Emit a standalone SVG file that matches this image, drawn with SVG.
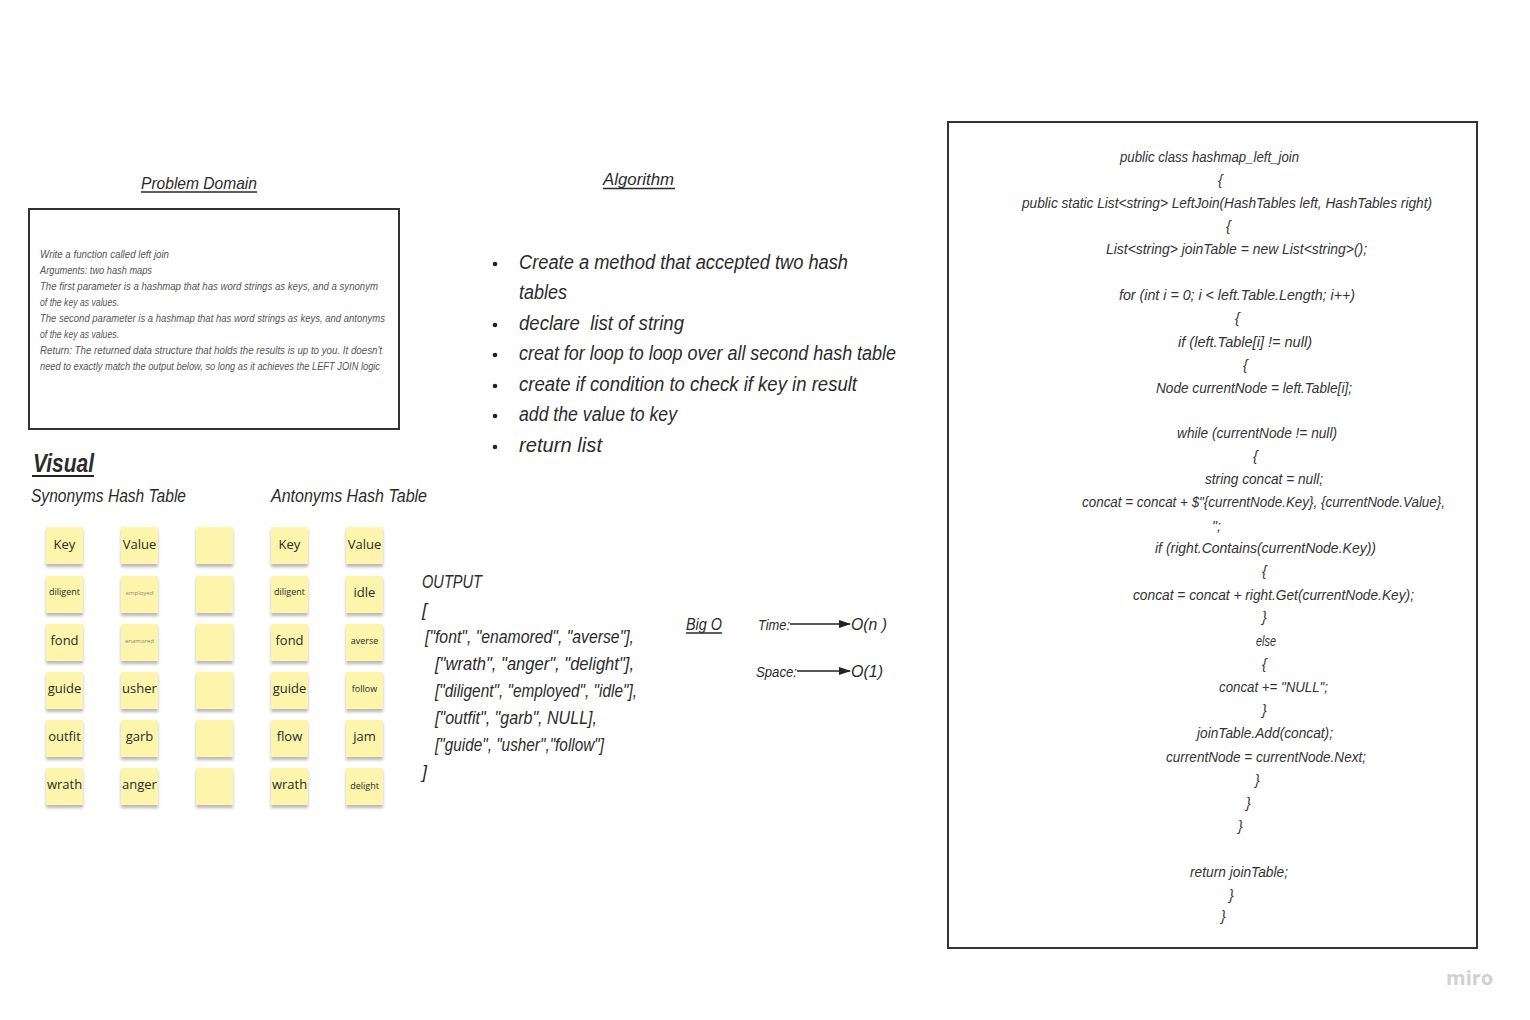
<svg xmlns="http://www.w3.org/2000/svg" width="1530" height="1020" viewBox="0 0 1530 1020">
<style>
.hw{font-family:"Liberation Sans","DejaVu Sans",sans-serif;font-style:italic;fill:#2b2b2b}
.title{font-size:17px}
.pd{font-size:10px;fill:#555}
.alg{font-size:20px}
.out{font-size:18px}
.code{font-size:14px;fill:#333}
.st{fill:#fdf5ab;filter:url(#sh)}
.sk{font-family:"Open Sans","Noto Sans",sans-serif;font-size:13px;fill:#2a2a2a;text-anchor:middle}
.sm{font-size:9px}
.xs{font-size:6px;fill:#888}
.ul{stroke:#2b2b2b;stroke-width:1.3}
.box{fill:#fff;stroke:#333;stroke-width:2}
.arr{stroke:#222;stroke-width:1.3;fill:none;marker-end:url(#ah)}
</style>
<defs>
<filter id="sh" x="-20%" y="-20%" width="140%" height="160%">
<feDropShadow dx="0" dy="3" stdDeviation="1.5" flood-color="#000" flood-opacity="0.28"/>
</filter>
<marker id="ah" markerWidth="12" markerHeight="8" refX="11" refY="4" orient="auto" markerUnits="userSpaceOnUse">
<path d="M0,0 L12,4 L0,8 Z" fill="#222"/>
</marker>
</defs>
<rect width="1530" height="1020" fill="#fff"/>

<g id="problem-domain">
<text class="hw title" x="141" y="189" textLength="116" lengthAdjust="spacingAndGlyphs">Problem Domain</text>
<line class="ul" x1="141" y1="192" x2="257" y2="192"/>
<rect class="box" x="29" y="209" width="370" height="220"/>
<text class="hw pd" x="40" y="258" textLength="129" lengthAdjust="spacingAndGlyphs">Write a function called left join</text>
<text class="hw pd" x="40" y="274" textLength="112" lengthAdjust="spacingAndGlyphs">Arguments: two hash maps</text>
<text class="hw pd" x="40" y="290" textLength="338" lengthAdjust="spacingAndGlyphs">The first parameter is a hashmap that has word strings as keys, and a synonym</text>
<text class="hw pd" x="40" y="306" textLength="79" lengthAdjust="spacingAndGlyphs">of the key as values.</text>
<text class="hw pd" x="40" y="322" textLength="345" lengthAdjust="spacingAndGlyphs">The second parameter is a hashmap that has word strings as keys, and antonyms</text>
<text class="hw pd" x="40" y="338" textLength="79" lengthAdjust="spacingAndGlyphs">of the key as values.</text>
<text class="hw pd" x="40" y="354" textLength="342" lengthAdjust="spacingAndGlyphs">Return: The returned data structure that holds the results is up to you. It doesn't</text>
<text class="hw pd" x="40" y="370" textLength="340" lengthAdjust="spacingAndGlyphs">need to exactly match the output below, so long as it achieves the LEFT JOIN logic</text>
</g>

<g id="algorithm">
<text class="hw title" x="603" y="185" textLength="71" lengthAdjust="spacingAndGlyphs">Algorithm</text>
<line class="ul" x1="603" y1="188.5" x2="675" y2="188.5"/>
<g fill="#222">
<circle cx="495" cy="264" r="2.3"/>
<circle cx="495" cy="325" r="2.3"/>
<circle cx="495" cy="355" r="2.3"/>
<circle cx="495" cy="386" r="2.3"/>
<circle cx="495" cy="416" r="2.3"/>
<circle cx="495" cy="447" r="2.3"/>
</g>
<text class="hw alg" x="519" y="269" textLength="329" lengthAdjust="spacingAndGlyphs">Create a method that accepted two hash</text>
<text class="hw alg" x="519" y="299" textLength="48" lengthAdjust="spacingAndGlyphs">tables</text>
<text class="hw alg" x="519" y="330" textLength="165" lengthAdjust="spacingAndGlyphs" style="white-space:pre">declare  list of string</text>
<text class="hw alg" x="519" y="360" textLength="377" lengthAdjust="spacingAndGlyphs">creat for loop to loop over all second hash table</text>
<text class="hw alg" x="519" y="391" textLength="338" lengthAdjust="spacingAndGlyphs">create if condition to check if key in result</text>
<text class="hw alg" x="519" y="421" textLength="158" lengthAdjust="spacingAndGlyphs">add the value to key</text>
<text class="hw alg" x="519" y="452" textLength="83" lengthAdjust="spacingAndGlyphs">return list</text>
</g>

<g id="visual">
<text class="hw" x="33" y="472" font-size="26" font-weight="bold" textLength="61" lengthAdjust="spacingAndGlyphs">Visual</text>
<line x1="32" y1="476" x2="94" y2="476" stroke="#222" stroke-width="2"/>
<text class="hw" x="31" y="502" font-size="18" textLength="155" lengthAdjust="spacingAndGlyphs">Synonyms Hash Table</text>
<text class="hw" x="271" y="502" font-size="18" textLength="156" lengthAdjust="spacingAndGlyphs">Antonyms Hash Table</text>
</g>

<g id="synonyms-table">
<g id="s-key"><rect class="st" x="46" y="527" width="37" height="37"/><text class="sk" x="64.5" y="549">Key</text></g>
<g id="s-value"><rect class="st" x="121" y="527" width="37" height="37"/><text class="sk" x="139.5" y="549">Value</text></g>
<g id="s-blank1"><rect class="st" x="196" y="527" width="37" height="37"/></g>
<g id="s-k1"><rect class="st" x="46" y="576" width="37" height="37"/><text class="sk sm" x="64.5" y="595">diligent</text></g>
<g id="s-v1"><rect class="st" x="121" y="576" width="37" height="37"/><text class="sk xs" x="139.5" y="595">employed</text></g>
<g id="s-blank2"><rect class="st" x="196" y="576" width="37" height="37"/></g>
<g id="s-k2"><rect class="st" x="46" y="624" width="37" height="37"/><text class="sk" x="64.5" y="645">fond</text></g>
<g id="s-v2"><rect class="st" x="121" y="624" width="37" height="37"/><text class="sk xs" x="139.5" y="643">enamored</text></g>
<g id="s-blank3"><rect class="st" x="196" y="624" width="37" height="37"/></g>
<g id="s-k3"><rect class="st" x="46" y="672" width="37" height="37"/><text class="sk" x="64.5" y="693">guide</text></g>
<g id="s-v3"><rect class="st" x="121" y="672" width="37" height="37"/><text class="sk" x="139.5" y="693">usher</text></g>
<g id="s-blank4"><rect class="st" x="196" y="672" width="37" height="37"/></g>
<g id="s-k4"><rect class="st" x="46" y="720" width="37" height="37"/><text class="sk" x="64.5" y="741">outfit</text></g>
<g id="s-v4"><rect class="st" x="121" y="720" width="37" height="37"/><text class="sk" x="139.5" y="741">garb</text></g>
<g id="s-blank5"><rect class="st" x="196" y="720" width="37" height="37"/></g>
<g id="s-k5"><rect class="st" x="46" y="768" width="37" height="37"/><text class="sk" x="64.5" y="789">wrath</text></g>
<g id="s-v5"><rect class="st" x="121" y="768" width="37" height="37"/><text class="sk" x="139.5" y="789">anger</text></g>
<g id="s-blank6"><rect class="st" x="196" y="768" width="37" height="37"/></g>
</g>

<g id="antonyms-table">
<g id="a-key"><rect class="st" x="271" y="527" width="37" height="37"/><text class="sk" x="289.5" y="549">Key</text></g>
<g id="a-value"><rect class="st" x="346" y="527" width="37" height="37"/><text class="sk" x="364.5" y="549">Value</text></g>
<g id="a-k1"><rect class="st" x="271" y="576" width="37" height="37"/><text class="sk sm" x="289.5" y="595">diligent</text></g>
<g id="a-v1"><rect class="st" x="346" y="576" width="37" height="37"/><text class="sk" x="364.5" y="597">idle</text></g>
<g id="a-k2"><rect class="st" x="271" y="624" width="37" height="37"/><text class="sk" x="289.5" y="645">fond</text></g>
<g id="a-v2"><rect class="st" x="346" y="624" width="37" height="37"/><text class="sk sm" x="364.5" y="644">averse</text></g>
<g id="a-k3"><rect class="st" x="271" y="672" width="37" height="37"/><text class="sk" x="289.5" y="693">guide</text></g>
<g id="a-v3"><rect class="st" x="346" y="672" width="37" height="37"/><text class="sk sm" x="364.5" y="692">follow</text></g>
<g id="a-k4"><rect class="st" x="271" y="720" width="37" height="37"/><text class="sk" x="289.5" y="741">flow</text></g>
<g id="a-v4"><rect class="st" x="346" y="720" width="37" height="37"/><text class="sk" x="364.5" y="741">jam</text></g>
<g id="a-k5"><rect class="st" x="271" y="768" width="37" height="37"/><text class="sk" x="289.5" y="789">wrath</text></g>
<g id="a-v5"><rect class="st" x="346" y="768" width="37" height="37"/><text class="sk sm" x="364.5" y="789">delight</text></g>
</g>

<g id="output">
<text class="hw out" x="422" y="588" textLength="60" lengthAdjust="spacingAndGlyphs">OUTPUT</text>
<text class="hw out" x="422" y="616">[</text>
<text class="hw out" x="425" y="643" textLength="209" lengthAdjust="spacingAndGlyphs">["font", "enamored", "averse"],</text>
<text class="hw out" x="435" y="670" textLength="199" lengthAdjust="spacingAndGlyphs">["wrath", "anger", "delight"],</text>
<text class="hw out" x="435" y="697" textLength="202" lengthAdjust="spacingAndGlyphs">["diligent", "employed", "idle"],</text>
<text class="hw out" x="435" y="724" textLength="162" lengthAdjust="spacingAndGlyphs">["outfit", "garb", NULL],</text>
<text class="hw out" x="435" y="751" textLength="169" lengthAdjust="spacingAndGlyphs">["guide", "usher","follow"]</text>
<text class="hw out" x="422" y="778">]</text>
</g>

<g id="big-o">
<text class="hw" x="686" y="630" font-size="16" textLength="36" lengthAdjust="spacingAndGlyphs">Big O</text>
<line class="ul" x1="686" y1="633" x2="722" y2="633"/>
<text class="hw" x="758" y="630" font-size="14" textLength="32" lengthAdjust="spacingAndGlyphs">Time:</text>
<text class="hw" x="851" y="630" font-size="16" textLength="36" lengthAdjust="spacingAndGlyphs">O(n )</text>
<text class="hw" x="756" y="677" font-size="14" textLength="41" lengthAdjust="spacingAndGlyphs">Space:</text>
<text class="hw" x="851" y="677" font-size="16" textLength="32" lengthAdjust="spacingAndGlyphs">O(1)</text>
</g>

<g id="connectors">
<line class="arr" x1="790" y1="624" x2="850" y2="624"/>
<line class="arr" x1="797" y1="671" x2="850" y2="671"/>
</g>

<g id="code">
<rect class="box" x="948" y="122" width="529" height="826"/>
<text class="hw code" x="1120" y="162" textLength="179" lengthAdjust="spacingAndGlyphs">public class hashmap_left_join</text>
<text class="hw code" x="1218" y="185">{</text>
<text class="hw code" x="1022" y="208" textLength="410" lengthAdjust="spacingAndGlyphs">public static List&lt;string&gt; LeftJoin(HashTables left, HashTables right)</text>
<text class="hw code" x="1226" y="231">{</text>
<text class="hw code" x="1106" y="254" textLength="261" lengthAdjust="spacingAndGlyphs">List&lt;string&gt; joinTable = new List&lt;string&gt;();</text>
<text class="hw code" x="1119" y="300" textLength="236" lengthAdjust="spacingAndGlyphs">for (int i = 0; i &lt; left.Table.Length; i++)</text>
<text class="hw code" x="1235" y="323">{</text>
<text class="hw code" x="1178" y="347" textLength="134" lengthAdjust="spacingAndGlyphs">if (left.Table[i] != null)</text>
<text class="hw code" x="1243" y="370">{</text>
<text class="hw code" x="1156" y="393" textLength="196" lengthAdjust="spacingAndGlyphs">Node currentNode = left.Table[i];</text>
<text class="hw code" x="1177" y="438" textLength="160" lengthAdjust="spacingAndGlyphs">while (currentNode != null)</text>
<text class="hw code" x="1253" y="461">{</text>
<text class="hw code" x="1205" y="484" textLength="118" lengthAdjust="spacingAndGlyphs">string concat = null;</text>
<text class="hw code" x="1082" y="507" textLength="363" lengthAdjust="spacingAndGlyphs">concat = concat + $"{currentNode.Key}, {currentNode.Value},</text>
<text class="hw code" x="1212" y="531">";</text>
<text class="hw code" x="1155" y="553" textLength="221" lengthAdjust="spacingAndGlyphs">if (right.Contains(currentNode.Key))</text>
<text class="hw code" x="1262" y="576">{</text>
<text class="hw code" x="1133" y="600" textLength="281" lengthAdjust="spacingAndGlyphs">concat = concat + right.Get(currentNode.Key);</text>
<text class="hw code" x="1262" y="622">}</text>
<text class="hw code" x="1256" y="646" textLength="20" lengthAdjust="spacingAndGlyphs">else</text>
<text class="hw code" x="1262" y="669">{</text>
<text class="hw code" x="1219" y="692" textLength="109" lengthAdjust="spacingAndGlyphs">concat += "NULL";</text>
<text class="hw code" x="1262" y="715">}</text>
<text class="hw code" x="1197" y="738" textLength="136" lengthAdjust="spacingAndGlyphs">joinTable.Add(concat);</text>
<text class="hw code" x="1166" y="762" textLength="200" lengthAdjust="spacingAndGlyphs">currentNode = currentNode.Next;</text>
<text class="hw code" x="1255" y="785">}</text>
<text class="hw code" x="1246" y="808">}</text>
<text class="hw code" x="1238" y="831">}</text>
<text class="hw code" x="1190" y="877" textLength="98" lengthAdjust="spacingAndGlyphs">return joinTable;</text>
<text class="hw code" x="1229" y="900">}</text>
<text class="hw code" x="1221" y="921">}</text>
</g>

<g id="miro-logo">
<text x="1446" y="985" font-family="'Open Sans','Noto Sans',sans-serif" font-size="20" font-weight="bold" fill="#cfcfd6">miro</text>
</g>
</svg>
